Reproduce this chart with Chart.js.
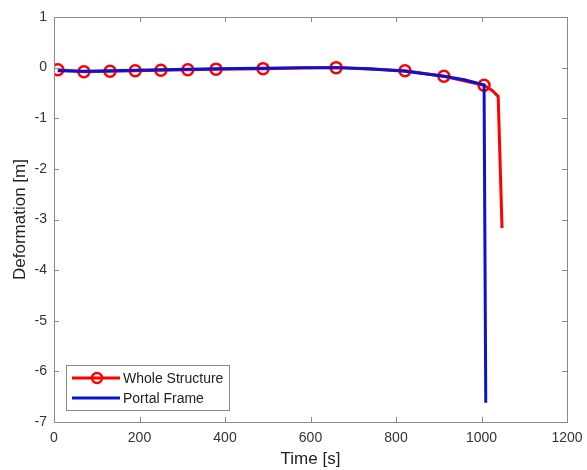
<!DOCTYPE html>
<html>
<head>
<meta charset="utf-8">
<script src="https://cdn.jsdelivr.net/npm/chart.js@4"></script>
<style>
  html, body { margin: 0; padding: 0; background: #fff; }
  #wrap { width: 587px; height: 470px; }
</style>
</head>
<body>
<div id="wrap"><canvas id="chart"></canvas></div>
<script>
// values
const timeWhole = [9, 70, 131, 190, 250, 313, 379, 489, 660, 821, 912, 1006, 1025, 1039, 1048];
const deformWhole = [-0.04, -0.08, -0.07, -0.06, -0.05, -0.04, -0.03, -0.02, 0, -0.06, -0.17, -0.35, -0.45, -0.57, -3.17];
const markerCount = 12;

const timePortal = [9, 70, 131, 190, 250, 313, 379, 489, 580, 660, 740, 821, 912, 960, 1006, 1010];
const deformPortal = [-0.06, -0.07, -0.06, -0.05, -0.04, -0.03, -0.02, -0.01, 0, 0, -0.02, -0.07, -0.17, -0.24, -0.34, -6.62];

const seriesLabels = ['Whole Structure', 'Portal Frame'];
const xTicks = [0, 200, 400, 600, 800, 1000, 1200];
const yTicks = [1, 0, -1, -2, -3, -4, -5, -6, -7];

const toPoints = (xs, ys) => xs.map((x, i) => ({ x, y: ys[i] }));
const fontFamily = '"Liberation Sans", Arial, sans-serif';

// box with inward ticks on all four sides, matlab style
const boxPlugin = {
    id: 'box',
    afterDraw(chart) {
        const { ctx, chartArea: a, scales } = chart;
        ctx.save();
        ctx.strokeStyle = '#8a8a8a';
        ctx.lineWidth = 1;
        ctx.strokeRect(a.left + 0.5, a.top + 0.5, a.right - a.left, a.bottom - a.top);
        ctx.beginPath();
        xTicks.forEach(v => {
            const px = Math.round(scales.x.getPixelForValue(v)) + 0.5;
            ctx.moveTo(px, a.bottom); ctx.lineTo(px, a.bottom - 5);
            ctx.moveTo(px, a.top); ctx.lineTo(px, a.top + 5);
        });
        yTicks.forEach(v => {
            const py = Math.round(scales.y.getPixelForValue(v)) + 0.5;
            ctx.moveTo(a.left, py); ctx.lineTo(a.left + 5, py);
            ctx.moveTo(a.right, py); ctx.lineTo(a.right - 5, py);
        });
        ctx.stroke();
        ctx.restore();
    }
};

// legend box inside the plot, lower left
const legendPlugin = {
    id: 'insideLegend',
    afterDraw(chart) {
        const { ctx, chartArea: a } = chart;
        const x0 = a.left + 12, y0 = a.bottom - 57, w = 163, h = 45;
        ctx.save();
        ctx.fillStyle = '#fff';
        ctx.fillRect(x0, y0, w, h);
        ctx.strokeStyle = '#8a8a8a';
        ctx.lineWidth = 1;
        ctx.strokeRect(x0 + 0.5, y0 + 0.5, w, h);
        ctx.font = '14px ' + fontFamily;
        ctx.textBaseline = 'middle';
        chart.data.datasets.forEach((ds, i) => {
            const cy = y0 + 13 + i * 20;
            ctx.strokeStyle = ds.borderColor;
            ctx.lineWidth = 3;
            ctx.beginPath();
            ctx.moveTo(x0 + 6, cy); ctx.lineTo(x0 + 54, cy);
            ctx.stroke();
            if (i === 0) {
                ctx.lineWidth = 2.5;
                ctx.beginPath();
                ctx.arc(x0 + 31, cy, 5, 0, Math.PI * 2);
                ctx.stroke();
            }
            ctx.fillStyle = '#222';
            ctx.fillText(ds.label, x0 + 57, cy + 1);
        });
        ctx.restore();
    }
};

const ctx = document.getElementById('chart').getContext('2d');
const myChart = new Chart(ctx, {
    type: 'line',
    data: {
        datasets: [{
            label: seriesLabels[0],
            data: toPoints(timeWhole, deformWhole),
            borderColor: '#ff0000',
            borderWidth: 3,
            pointRadius: timeWhole.map((t, i) => i < markerCount ? 5.5 : 0),
            pointBorderWidth: 2.5,
            pointBorderColor: '#ff0000',
            pointBackgroundColor: 'rgba(0,0,0,0)',
            fill: false,
            order: 2
        }, {
            label: seriesLabels[1],
            data: toPoints(timePortal, deformPortal),
            borderColor: '#0a14d0',
            borderWidth: 3,
            pointRadius: 0,
            fill: false,
            order: 1
        }]
    },
    options: {
        responsive: true,
        maintainAspectRatio: false,
        animation: false,
        layout: { padding: { top: 17, right: 20, left: 10, bottom: 0 } },
        plugins: {
            legend: { display: false },
            tooltip: { enabled: false }
        },
        scales: {
            x: {
                type: 'linear',
                min: 0,
                max: 1200,
                afterBuildTicks: s => { s.ticks = xTicks.map(v => ({ value: v })); },
                grid: { display: false, drawTicks: false },
                border: { display: false },
                ticks: {
                    color: '#333',
                    font: { size: 14, family: fontFamily },
                    padding: 8,
                    maxRotation: 0,
                    callback: v => String(v)
                },
                title: {
                    display: true,
                    text: 'Time [s]',
                    color: '#222',
                    font: { size: 17, family: fontFamily },
                    padding: { top: 0, bottom: 0 }
                },
                afterFit: s => { s.height = 48; s.paddingLeft = 0; s.paddingRight = 0; }
            },
            y: {
                type: 'linear',
                min: -7,
                max: 1,
                afterBuildTicks: s => { s.ticks = yTicks.map(v => ({ value: v })); },
                grid: { display: false, drawTicks: false },
                border: { display: false },
                ticks: {
                    color: '#333',
                    font: { size: 14, family: fontFamily },
                    padding: 7,
                    callback: v => String(v)
                },
                title: {
                    display: true,
                    text: 'Deformation [m]',
                    color: '#222',
                    font: { size: 17, family: fontFamily },
                    padding: { top: 0, bottom: 0 }
                },
                afterFit: s => { s.width = 44; s.paddingTop = 0; s.paddingBottom = 0; }
            }
        }
    },
    plugins: [boxPlugin, legendPlugin]
});
</script>
</body>
</html>
